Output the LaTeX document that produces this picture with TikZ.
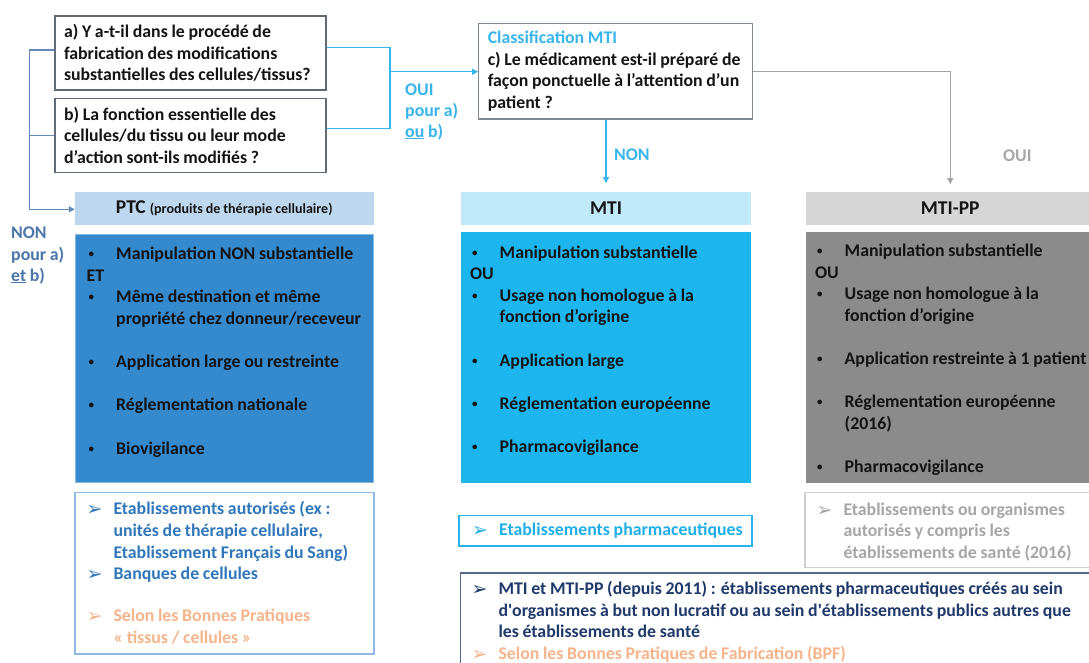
\documentclass[tikz,border=0pt]{standalone}
\usepackage{fontspec}
\setmainfont{Carlito}[WordSpace=0.92]
\newfontfamily\dingfont{DejaVu Sans}
\usetikzlibrary{arrows.meta}

% palette
\definecolor{qborder}{HTML}{5F6B77}
\definecolor{cborder}{HTML}{7F8A95}
\definecolor{steelline}{HTML}{6289B7}
\definecolor{steeltext}{HTML}{4A76AA}
\definecolor{sky}{HTML}{38B5EC}
\definecolor{grayline}{HTML}{A3A3A3}
\definecolor{graytext}{HTML}{A6A6A6}
\definecolor{ptchead}{HTML}{BDD7EE}
\definecolor{mtihead}{HTML}{C0E9F9}
\definecolor{pphead}{HTML}{D6D6D6}
\definecolor{ptcbody}{HTML}{3589CD}
\definecolor{mtibody}{HTML}{1CB5EE}
\definecolor{ppbody}{HTML}{8B8B8B}
\definecolor{ptcframe}{HTML}{8FB9E3}
\definecolor{ptcink}{HTML}{2F77BA}
\definecolor{peach}{HTML}{F5B48B}
\definecolor{mtiframe}{HTML}{25B3EC}
\definecolor{mtiink}{HTML}{1EAFE8}
\definecolor{ppframe}{HTML}{CFCFCF}
\definecolor{navyframe}{HTML}{54688A}
\definecolor{navyink}{HTML}{1F3A6A}
\definecolor{bodyink}{HTML}{141414}

\newcommand\txtsize{\fontsize{17.8}{21.6}\selectfont\bfseries}
\newcommand\headsize{\fontsize{19.5}{22}\selectfont\bfseries}
\newcommand\smallhead{\fontsize{14}{16}\selectfont\bfseries}
% question rows: fixed-width lines so the text sits flush left in its box
\newcommand\qrowab[1]{\makebox[253pt][l]{#1}}
\newcommand\qrowc[1]{\makebox[255.9pt][l]{#1}}
% list line helpers: bullet item, continuation, arrow item
\newcommand\bltline[1]{\makebox[29.5pt][l]{\hspace{2pt}\raisebox{2pt}{\fontsize{11}{11}\selectfont•}}#1}
\newcommand\cntline[1]{\hspace*{29.5pt}#1}
\newcommand\arrline[1]{\makebox[27pt][l]{\raisebox{-1pt}{\dingfont\fontsize{19}{19}\selectfont ➢}}#1}
\newcommand\arrcnt[1]{\hspace*{27pt}#1}

\begin{document}
\begin{tikzpicture}[x=1pt,y=-1pt,
  qbox/.style={draw=qborder,line width=1.3pt,fill=white,inner xsep=9pt,inner ysep=0pt,
    align=left,font=\txtsize,text=bodyink},
  hdr/.style={inner sep=0pt,minimum height=32.7pt,font=\headsize,text=bodyink},
  panel/.style={inner sep=0pt},
  frame/.style={fill=white,line width=1.3pt,inner sep=0pt},
  list/.style={anchor=north west,inner sep=0pt,align=left,font=\txtsize},
  tag/.style={anchor=north west,inner sep=0pt,align=left,font=\txtsize},
  link/.style={line width=1.3pt},
  tip/.style={-{Triangle[length=6pt,width=6pt]}}]

\useasboundingbox (0,0) rectangle (1089,663);
\clip (0,0) rectangle (1089,663);
\fill[white] (0,0) rectangle (1089,663);

% questions
\node[qbox,minimum width=271pt,minimum height=74pt] (qa) at (190.5,53)
  {\qrowab{a) Y a-t-il dans le procédé de}\\\qrowab{fabrication des modifications}\\\qrowab{substantielles des cellules/tissus?}};
\node[qbox,minimum width=271pt,minimum height=74pt] (qb) at (190.5,135.3)
  {\qrowab{b) La fonction essentielle des}\\\qrowab{cellules/du tissu ou leur mode}\\\qrowab{d’action sont-ils modifiés ?}};
\node[qbox,draw=cborder,minimum width=273.3pt,minimum height=95.7pt] (qc) at (615.7,71.2)
  {\qrowc{\color{sky}Classification MTI}\\\qrowc{c) Le médicament est-il préparé de}\\\qrowc{façon ponctuelle à l’attention d’un}\\\qrowc{patient ?}};

% column headers
\node[hdr,fill=ptchead,minimum width=298.5pt] (hptc) at (224.25,208.6)
  {PTC {\smallhead(produits de thérapie cellulaire)}};
\node[hdr,fill=mtihead,minimum width=290.6pt] (hmti) at (606,208.6) {MTI};
\node[hdr,fill=pphead,minimum width=289.5pt] (hpp) at (950.25,208.6) {MTI-PP};

% column bodies
\node[panel,fill=ptcbody,draw=ptcbody!60!white,line width=0.8pt,minimum width=298.5pt,minimum height=248.7pt] (bptc) at (224.25,358.35) {};
\node[panel,fill=mtibody,minimum width=290.6pt,minimum height=251.2pt] (bmti) at (606,357.1) {};
\node[panel,fill=ppbody,minimum width=289.5pt,minimum height=251.2pt] (bpp) at (950.25,357.1) {};

\node[list,text=bodyink] (lptc) at (86.5,247) {%
  \bltline{Manipulation NON substantielle}\\
  ET\\
  \bltline{Même destination et même}\\
  \cntline{propriété chez donneur/receveur}\\[21.6pt]
  \bltline{Application large ou restreinte}\\[21.6pt]
  \bltline{Réglementation nationale}\\[21.6pt]
  \bltline{Biovigilance}};
\node[list,text=bodyink] (lmti) at (470,245.4) {%
  \bltline{Manipulation substantielle}\\
  OU\\
  \bltline{Usage non homologue à la}\\
  \cntline{fonction d’origine}\\[21.6pt]
  \bltline{Application large}\\[21.6pt]
  \bltline{Réglementation européenne}\\[21.6pt]
  \bltline{Pharmacovigilance}};
\node[list,text=bodyink] (lpp) at (815,243.7) {%
  \bltline{Manipulation substantielle}\\
  OU\\
  \bltline{Usage non homologue à la}\\
  \cntline{fonction d’origine}\\[21.6pt]
  \bltline{Application restreinte à 1 patient}\\[21.6pt]
  \bltline{Réglementation européenne}\\
  \cntline{(2016)}\\[21.6pt]
  \bltline{Pharmacovigilance}};

% manufacturers
\node[frame,draw=ptcframe,minimum width=299pt,minimum height=161.3pt] (fptc) at (224.5,573.35) {};
\node[frame,draw=mtiframe,minimum width=293pt,minimum height=30.5pt] (fmti) at (605.5,530.75) {};
\node[frame,draw=ppframe,minimum width=295pt,minimum height=74.6pt] (fpp) at (952.5,530) {};
\node[frame,draw=navyframe,minimum width=639.3pt,minimum height=127pt] (fall) at (780.35,636.5) {};

\node[list,text=ptcink] (tptc) at (86.3,501.5) {%
  \arrline{Etablissements autorisés (ex :}\\
  \arrcnt{unités de thérapie cellulaire,}\\
  \arrcnt{Etablissement Français du Sang)}\\
  \arrline{Banques de cellules}\\[20.4pt]
  {\color{peach}\arrline{Selon les Bonnes Pratiques}}\\
  {\color{peach}\arrcnt{« tissus / cellules »}}};
\node[list,text=mtiink] (tmti) at (472,522.4) {\arrline{Etablissements pharmaceutiques}};
\node[list,text=graytext] (tpp) at (816.3,502.5) {%
  \arrline{Etablissements ou organismes}\\
  \arrcnt{autorisés y compris les}\\
  \arrcnt{établissements de santé (2016)}};
\node[list,text=navyink] (tall) at (471.3,581) {%
  \arrline{MTI et MTI-PP (depuis 2011) : établissements pharmaceutiques créés au sein}\\
  \arrcnt{d\textquotesingle organismes à but non lucratif ou au sein d\textquotesingle établissements publics autres que}\\
  \arrcnt{les établissements de santé}\\
  {\color{peach}\arrline{Selon les Bonnes Pratiques de Fabrication (BPF)}}};

% decision connectors
\coordinate (jl) at (29.3,209.3);
\coordinate (jr) at (390,71.7);
\draw[link,steelline] ([yshift=3pt]qa.west) -| (jl);
\draw[link,steelline] (qb.west) -- (qb.west -| jl);
\draw[link,steelline,tip] (jl) -- (jl -| hptc.west);
\draw[link,sky] ([yshift=5.3pt]qa.east) -| (jr) |- ([yshift=7pt]qb.east);
\draw[link,sky,tip] (jr) -- (jr -| qc.west);
\draw[link,sky,tip,shorten >=9pt] (qc.south -| hmti.north) -- (hmti.north);
\draw[link,grayline,tip,shorten >=8pt] (qc.east) -| (hpp.north);

% connector labels
\node[tag,text=sky] (ouiab) at (405,83.2) {OUI\\[-0.6pt]pour a)\\[-0.6pt]\underline{ou} b)};
\node[tag,text=steeltext] (nonab) at (11,227) {NON\\pour a)\\[-1pt]\underline{et} b)};
\node[tag,text=sky] (nonc) at (614,148.6) {NON};
\node[tag,text=graytext] (ouic) at (1003,149.6) {OUI};
\end{tikzpicture}
\end{document}
